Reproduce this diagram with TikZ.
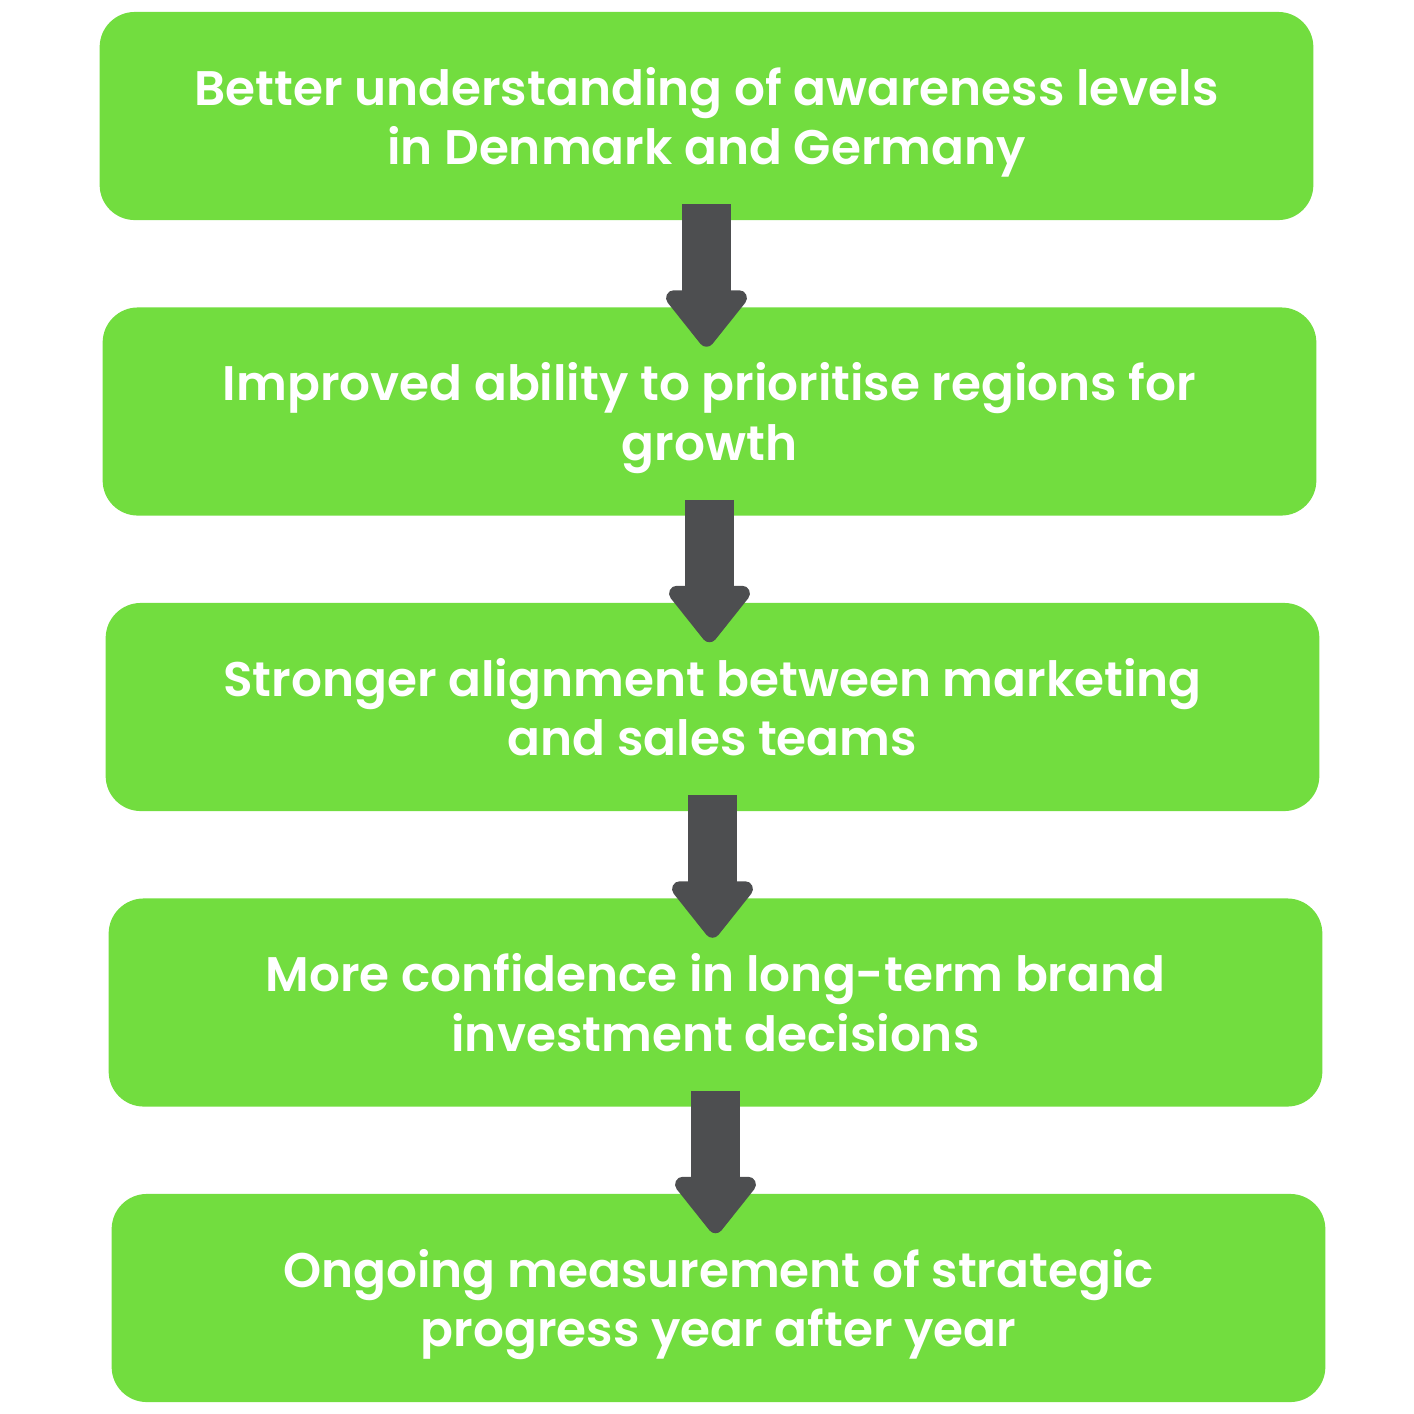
\documentclass[tikz,border=0pt]{standalone}
\usepackage{fontspec}
\setmainfont{Poppins}[BoldFont={Poppins SemiBold}]
\usetikzlibrary{arrows.meta, positioning, calc}

\definecolor{verde}{HTML}{72DD3F}
\definecolor{grisflecha}{HTML}{4D4E50}

\begin{document}
\begin{tikzpicture}[
        x=0.01cm, y=0.01cm,
        paso/.style={
            rectangle,
            rounded corners=10pt,
            minimum width=12.13cm,
            minimum height=2.08cm,
            align=center,
            font=\fontsize{13.8}{17}\selectfont\bfseries,
            text=white,
            fill=verde,
            text depth=0pt,
            inner sep=0pt
        },
        flecha/.style={
            -{Triangle[length=17.5pt, width=26.5pt, round]},
            line width=13.9pt,
            draw=grisflecha
        }
    ]
        \useasboundingbox (0,0) rectangle (1414,-1414);

        \node[paso] (entender) at (706.5,-116) {
            Better understanding of awareness levels\\
            in Denmark and Germany
        };

        \node[paso] (priorizar) at (709.5,-411.5) {
            Improved ability to prioritise regions for\\
            growth
        };

        \node[paso] (alinear) at (712.5,-707) {
            Stronger alignment between marketing\\
            and sales teams
        };

        \node[paso] (confianza) at (715.5,-1002.5) {
            More confidence in long-term brand\\
            investment decisions
        };

        \node[paso] (medir) at (718.5,-1298) {
            Ongoing measurement of strategic\\
            progress year after year
        };

        \draw[flecha] ([yshift=16.5*0.01cm]entender.south) -- ([yshift=-40*0.01cm]priorizar.north -| entender.south);
        \draw[flecha] ([yshift=16.5*0.01cm]priorizar.south) -- ([yshift=-40*0.01cm]alinear.north -| priorizar.south);
        \draw[flecha] ([yshift=16.5*0.01cm]alinear.south) -- ([yshift=-40*0.01cm]confianza.north -| alinear.south);
        \draw[flecha] ([yshift=16.5*0.01cm]confianza.south) -- ([yshift=-40*0.01cm]medir.north -| confianza.south);
    \end{tikzpicture}
\end{document}
